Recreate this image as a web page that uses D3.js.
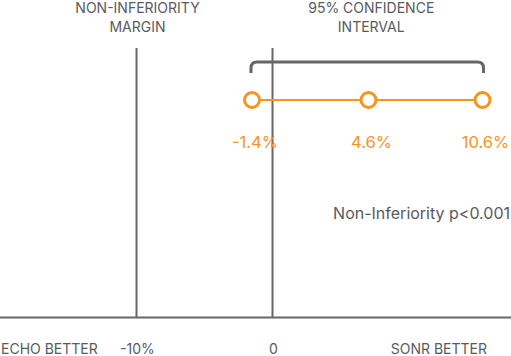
<!DOCTYPE html>
<html><head><meta charset="utf-8">
<script src="https://cdn.jsdelivr.net/npm/d3@7"></script>
<style>html,body{margin:0;padding:0;background:#fff}svg{display:block}</style>
</head><body>
<script>
// Data
const ciLabels = ["-1.4%", "4.6%", "10.6%"];
const ciValues = [-1.4, 4.6, 10.6];
const refValues = [-10, 0];
const refTickLabels = ["-10%", "0"];
const topLabels = [["NON-INFERIORITY", "MARGIN"], ["95% CONFIDENCE", "INTERVAL"]];
const sideLabels = ["ECHO BETTER", "SONR BETTER"];
const pValueLabel = "Non-Inferiority p<0.001";

const W = 511, H = 356;
const gray = "#63666a", textGray = "#595a5e", orange = "#f7941d";
const font = "Inter, 'Open Sans', sans-serif";

// Schematic (piecewise) scale as drawn in the reference
const x = d3.scaleLinear()
  .domain([-10, -1.4, 0, 4.6, 10.6])
  .range([136.5, 252, 272.5, 368.5, 482.5]);

const svg = d3.select("body").append("svg").attr("width", W).attr("height", H);

const yTop = 48, yBase = 317.5, yCI = 100;

// baseline
svg.append("line").attr("x1", 0).attr("x2", W).attr("y1", yBase).attr("y2", yBase)
  .attr("stroke", gray).attr("stroke-width", 2);

// reference vertical lines
svg.selectAll("line.ref").data(refValues).enter().append("line").attr("class", "ref")
  .attr("x1", d => x(d)).attr("x2", d => x(d)).attr("y1", yTop).attr("y2", yBase)
  .attr("stroke", gray).attr("stroke-width", 2);

// bracket
const bx0 = x(ciValues[0]) - 1, bx1 = x(ciValues[2]) + 1, by = 62, bl = 73, r = 6;
svg.append("path")
  .attr("d", `M${bx0},${bl} V${by + r} Q${bx0},${by} ${bx0 + r},${by} H${bx1 - r} Q${bx1},${by} ${bx1},${by + r} V${bl}`)
  .attr("fill", "none").attr("stroke", gray).attr("stroke-width", 3);

// CI line
svg.append("line").attr("x1", x(ciValues[0])).attr("x2", x(ciValues[2]))
  .attr("y1", yCI).attr("y2", yCI).attr("stroke", orange).attr("stroke-width", 2);

// CI points
svg.selectAll("circle.ci").data(ciValues).enter().append("circle").attr("class", "ci")
  .attr("cx", d => x(d)).attr("cy", yCI).attr("r", 7.5)
  .attr("fill", "#fff").attr("stroke", orange).attr("stroke-width", 3);

// CI labels
svg.selectAll("text.ci").data(ciValues).enter().append("text").attr("class", "ci")
  .attr("x", (d) => x(d) + 3).attr("y", 148)
  .attr("text-anchor", "middle").attr("fill", orange)
  .attr("font-family", font).attr("font-size", 16.5)
  .text((d, i) => ciLabels[i]);

// top labels
const topX = [x(refValues[0]) + 1, (x(ciValues[0]) + x(ciValues[2])) / 2 + 4];
topLabels.forEach((lines, i) => {
  lines.forEach((t, j) => {
    svg.append("text").attr("x", topX[i]).attr("y", 13 + j * 19)
      .attr("text-anchor", "middle").attr("fill", textGray)
      .attr("font-family", font).attr("font-size", 14).text(t);
  });
});

// p-value
svg.append("text").attr("x", 510).attr("y", 219).attr("text-anchor", "end")
  .attr("fill", textGray).attr("font-family", font).attr("font-size", 16).text(pValueLabel);

// bottom tick labels
svg.selectAll("text.tick").data(refValues).enter().append("text").attr("class", "tick")
  .attr("x", d => x(d) + 1).attr("y", 354).attr("text-anchor", "middle")
  .attr("fill", textGray).attr("font-family", font).attr("font-size", 14)
  .text((d, i) => refTickLabels[i]);

svg.append("text").attr("x", 1).attr("y", 354).attr("fill", textGray)
  .attr("font-family", font).attr("font-size", 14).text(sideLabels[0]);
svg.append("text").attr("x", 487).attr("y", 354).attr("text-anchor", "end").attr("fill", textGray)
  .attr("font-family", font).attr("font-size", 14).text(sideLabels[1]);
</script>
</body></html>
